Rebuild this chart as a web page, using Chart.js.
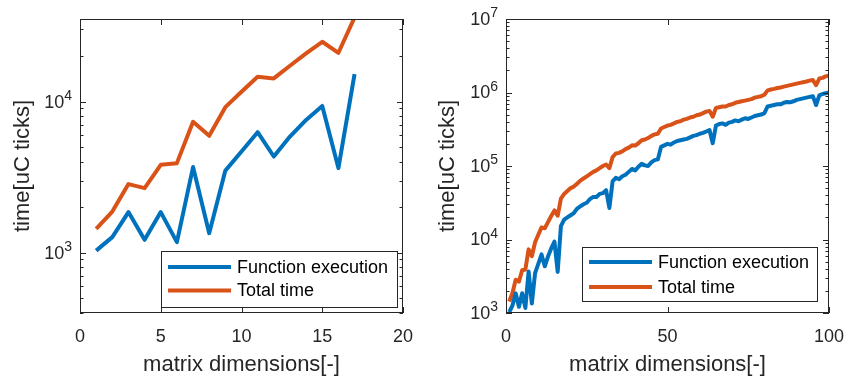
<!DOCTYPE html>
<html>
<head>
<meta charset="utf-8">
<title>Execution time vs matrix dimensions</title>
<script src="https://cdn.jsdelivr.net/npm/chart.js@4.4.0/dist/chart.umd.min.js"></script>
<style>
  body { margin: 0; background: #fff; }
  #wrap { position: relative; width: 846px; height: 378px; }
  canvas { position: absolute; top: 0; }
  #leftChart { left: 0; }
  #rightChart { left: 423px; }
</style>
</head>
<body>
<div id="wrap">
  <canvas id="leftChart" width="423" height="378"></canvas>
  <canvas id="rightChart" width="423" height="378"></canvas>
</div>
<script>
const seriesNames = ["Function execution", "Total time"];
const seriesColors = ["#0072BD", "#D95319"];

// left plot: small matrices
const dimsLeft = [1, 2, 3, 4, 5, 6, 7, 8, 9, 10, 11, 12, 13, 14, 15, 16, 17];
const execLeft = [1030, 1265, 1853, 1214, 1853, 1172, 3683, 1344, 3490, 4670, 6270, 4325, 5865, 7560, 9350, 3625, 15200];
const totalLeft = [1435, 1870, 2840, 2670, 3813, 3910, 7340, 5930, 9180, 11600, 14600, 14230, 17250, 20840, 24880, 21030, 36000];
const xTicksLeft = [0, 5, 10, 15, 20];

// right plot: up to 100x100
const dimsRight = Array.from({ length: 100 }, (_, i) => i + 1);
const execRight = [
  1030, 1265, 1853, 1214, 1853, 1172, 3683, 1344, 3490, 4670,
  6270, 4325, 5865, 7560, 9350, 3625, 15200, 18600, 20000, 21400,
  22900, 26300, 28200, 30200, 31600, 35500, 38000, 37800, 41700, 42700,
  46800, 26900, 61700, 69200, 66100, 72400, 75900, 83200, 91200, 87100,
  97700, 107000, 102000, 100000, 112000, 120000, 123000, 182000, 191000, 200000,
  195000, 209000, 219000, 224000, 229000, 234000, 245000, 257000, 263000, 275000,
  282000, 295000, 309000, 204000, 355000, 372000, 380000, 363000, 389000, 398000,
  417000, 407000, 427000, 447000, 437000, 457000, 479000, 490000, 501000, 525000,
  646000, 661000, 676000, 692000, 690000, 724000, 741000, 738000, 759000, 794000,
  813000, 832000, 851000, 871000, 891000, 676000, 912000, 955000, 977000, 1000000
];
const totalRight = [
  1435, 1870, 2840, 2670, 3813, 3910, 7340, 5930, 9180, 11600,
  14600, 14230, 17250, 20840, 24880, 21030, 36000, 41700, 45700, 50100,
  52500, 57500, 63100, 67600, 72400, 77600, 83200, 87100, 93300, 100000,
  105000, 93300, 132000, 148000, 151000, 158000, 170000, 178000, 191000, 190000,
  204000, 224000, 229000, 240000, 257000, 269000, 275000, 324000, 339000, 355000,
  363000, 380000, 398000, 407000, 427000, 437000, 457000, 468000, 490000, 501000,
  525000, 550000, 562000, 468000, 617000, 631000, 646000, 645000, 676000, 692000,
  724000, 741000, 759000, 776000, 794000, 813000, 851000, 871000, 891000, 933000,
  1070000, 1100000, 1120000, 1150000, 1170000, 1200000, 1230000, 1260000, 1290000, 1320000,
  1350000, 1380000, 1410000, 1450000, 1480000, 1260000, 1550000, 1580000, 1660000, 1700000
];
const xTicksRight = [0, 50, 100];

const yDecades = [1e3, 1e4, 1e5, 1e6, 1e7];
const yDecadeExponents = ["3", "4", "5", "6", "7"];

const xTitle = "matrix dimensions[-]";
const yTitle = "time[uC ticks]";

const FONT = "'Liberation Sans', Arial, 'DejaVu Sans', sans-serif";
const AXIS_COLOR = "#262626";

function toPoints(xs, ys) {
  return xs.map((x, i) => ({ x: x, y: ys[i] }));
}

// MATLAB style box, inward ticks, 10^n labels and legend
const matlabAxes = {
  id: "matlabAxes",
  afterDraw(chart, args, opts) {
    const ctx = chart.ctx;
    const a = chart.chartArea;
    const xs = chart.scales.x;
    const ys = chart.scales.y;
    ctx.save();
    ctx.strokeStyle = AXIS_COLOR;
    ctx.lineWidth = 1;
    ctx.strokeRect(a.left + 0.5, a.top + 0.5, a.right - a.left - 1, a.bottom - a.top - 1);

    ctx.beginPath();
    ys.ticks.forEach(t => {
      const py = Math.round(ys.getPixelForValue(t.value)) + 0.5;
      const len = yDecades.includes(t.value) ? 6 : 3.5;
      ctx.moveTo(a.left, py); ctx.lineTo(a.left + len, py);
      ctx.moveTo(a.right, py); ctx.lineTo(a.right - len, py);
    });
    xs.ticks.forEach(t => {
      const px = Math.round(xs.getPixelForValue(t.value)) + 0.5;
      ctx.moveTo(px, a.bottom); ctx.lineTo(px, a.bottom - 6);
      ctx.moveTo(px, a.top); ctx.lineTo(px, a.top + 6);
    });
    ctx.stroke();

    // decade labels, 10 with a raised exponent
    ctx.fillStyle = AXIS_COLOR;
    ctx.textAlign = "right";
    yDecades.forEach((d, i) => {
      if (d < ys.min * 0.999 || d > ys.max * 1.001) return;
      const py = ys.getPixelForValue(d);
      const right = a.left - 8;
      ctx.font = "14px " + FONT;
      ctx.textBaseline = "alphabetic";
      const expW = ctx.measureText(yDecadeExponents[i]).width;
      ctx.fillText(yDecadeExponents[i], right, py - 2);
      ctx.font = "18px " + FONT;
      ctx.textBaseline = "middle";
      ctx.fillText("10", right - expW, py + 1);
    });

    // legend
    const lg = opts.legend;
    const bx = a.right - lg.right - lg.width;
    const by = a.bottom - lg.bottom - lg.height;
    ctx.fillStyle = "#fff";
    ctx.fillRect(bx, by, lg.width, lg.height);
    ctx.strokeStyle = AXIS_COLOR;
    ctx.lineWidth = 1;
    ctx.strokeRect(Math.round(bx) + 0.5, Math.round(by) + 0.5, lg.width, lg.height);
    ctx.font = "18px " + FONT;
    ctx.textBaseline = "middle";
    ctx.textAlign = "left";
    chart.data.datasets.forEach((ds, i) => {
      const cy = by + lg.rowTop + i * lg.rowGap;
      ctx.strokeStyle = ds.borderColor;
      ctx.lineWidth = 4;
      ctx.beginPath();
      ctx.moveTo(bx + 7, cy);
      ctx.lineTo(bx + 70, cy);
      ctx.stroke();
      ctx.fillStyle = "#000";
      ctx.fillText(ds.label, bx + 76, cy + 1);
    });
    ctx.restore();
  }
};

function makeChart(id, dims, exec, total, xMax, xTicks, yMin, yMax, yAxisWidth, rightPad, titlePad, legend) {
  const ctx = document.getElementById(id).getContext("2d");
  return new Chart(ctx, {
    type: "line",
    data: {
      datasets: [
        {
          label: seriesNames[0],
          data: toPoints(dims, exec),
          borderColor: seriesColors[0],
          borderWidth: 4,
          pointRadius: 0,
          borderJoinStyle: "round",
          clip: 0,
        },
        {
          label: seriesNames[1],
          data: toPoints(dims, total),
          borderColor: seriesColors[1],
          borderWidth: 4,
          pointRadius: 0,
          borderJoinStyle: "round",
          clip: 0,
        },
      ],
    },
    options: {
      responsive: false,
      animation: false,
      layout: { padding: { top: 19, right: rightPad, left: 0, bottom: 0 } },
      plugins: {
        legend: { display: false },
        tooltip: { enabled: false },
        matlabAxes: { legend: legend },
      },
      scales: {
        x: {
          type: "linear",
          min: 0,
          max: xMax,
          afterBuildTicks: (scale) => {
            scale.ticks = xTicks.map(v => ({ value: v }));
          },
          afterFit: (scale) => {
            scale.height = 65;
            scale.paddingLeft = 0;
            scale.paddingRight = 0;
          },
          grid: { display: false },
          border: { display: false },
          ticks: {
            autoSkip: false,
            maxRotation: 0,
            padding: 5,
            color: AXIS_COLOR,
            font: { family: FONT, size: 18 },
          },
          title: {
            display: true,
            text: xTitle,
            color: AXIS_COLOR,
            padding: { top: 0, bottom: 0 },
            font: { family: FONT, size: 22 },
          },
        },
        y: {
          type: "logarithmic",
          min: yMin,
          max: yMax,
          afterBuildTicks: (scale) => {
            const ticks = [];
            for (let e = 2; e <= 7; e++) {
              for (let m = 1; m <= 9; m++) {
                const v = m * Math.pow(10, e);
                if (v >= yMin * 0.999 && v <= yMax * 1.001) ticks.push({ value: v });
              }
            }
            scale.ticks = ticks;
          },
          afterFit: (scale) => {
            scale.width = yAxisWidth;
            scale.paddingTop = 0;
            scale.paddingBottom = 0;
          },
          grid: { display: false },
          border: { display: false },
          ticks: {
            autoSkip: false,
            padding: 8,
            color: AXIS_COLOR,
            font: { family: FONT, size: 18 },
            callback: () => "",
          },
          title: {
            display: true,
            text: yTitle,
            color: AXIS_COLOR,
            padding: { top: titlePad, bottom: 0 },
            font: { family: FONT, size: 22 },
          },
        },
      },
    },
    plugins: [matlabAxes],
  });
}

makeChart("leftChart", dimsLeft, execLeft, totalLeft, 20, xTicksLeft, 398, 35200, 80, 20, 10,
  { width: 236, height: 56, right: 6, bottom: 6, rowTop: 16, rowGap: 23.5 });
makeChart("rightChart", dimsRight, execRight, totalRight, 100, xTicksRight, 1e3, 1e7, 83, 17, 12,
  { width: 235, height: 54, right: 12, bottom: 12, rowTop: 15, rowGap: 25 });
</script>
</body>
</html>
